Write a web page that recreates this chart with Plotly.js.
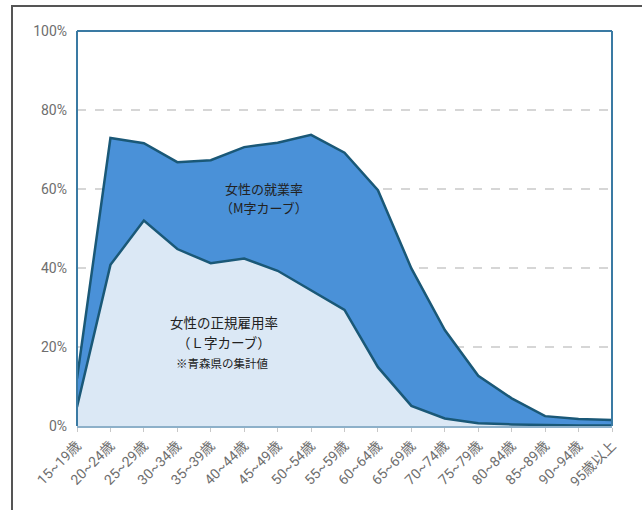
<!DOCTYPE html>
<html>
<head>
<meta charset="utf-8">
<script src="https://cdn.plot.ly/plotly-3.0.1.min.js"></script>
<style>
html,body{margin:0;padding:0;background:#fff;overflow:hidden;}
#frame{position:absolute;left:11px;top:5px;width:700px;height:600px;border:2px solid #555;box-sizing:border-box;}
#chart{position:absolute;left:0;top:0;width:642px;height:510px;}
</style>
</head>
<body>
<div id="frame"></div>
<div id="chart"></div>
<script>
// Age groups
const ageGroups = ["15~19歳","20~24歳","25~29歳","30~34歳","35~39歳","40~44歳","45~49歳","50~54歳","55~59歳","60~64歳","65~69歳","70~74歳","75~79歳","80~84歳","85~89歳","90~94歳","95歳以上"];
// Female employment rate (M-curve), %
const employmentRate = [12.0, 72.9, 71.6, 66.8, 67.3, 70.6, 71.7, 73.7, 69.2, 59.7, 39.9, 24.3, 12.7, 7.0, 2.5, 1.8, 1.5];
// Female regular employment rate (L-curve), %
const regularRate = [4.8, 40.8, 52.0, 44.8, 41.2, 42.4, 39.3, 34.4, 29.4, 14.9, 5.1, 1.9, 0.7, 0.4, 0.2, 0.1, 0.1];
const yTicks = [0, 20, 40, 60, 80, 100];

const lineColor = '#1a5877';
const traces = [
  {
    x: ageGroups, y: regularRate, type: 'scatter', mode: 'lines',
    fill: 'tozeroy', fillcolor: '#dbe8f5',
    line: {color: lineColor, width: 2.5}, hoverinfo: 'skip'
  },
  {
    x: ageGroups, y: employmentRate, type: 'scatter', mode: 'lines',
    fill: 'tonexty', fillcolor: '#4a91d8',
    line: {color: lineColor, width: 2.5}, hoverinfo: 'skip'
  }
];

const tickFont = {family: '"Liberation Sans Narrow", "Roboto", "Noto Sans CJK JP", sans-serif', size: 14, color: '#6e6e6e'};
const cjk = '"Noto Sans CJK JP", sans-serif';

const layout = {
  width: 642, height: 510,
  margin: {l: 77, r: 30, t: 31, b: 84},
  paper_bgcolor: 'rgba(0,0,0,0)',
  plot_bgcolor: '#ffffff',
  showlegend: false,
  xaxis: {
    type: 'category', range: [0, ageGroups.length - 1],
    tickangle: -45, tickfont: tickFont,
    ticks: 'outside', ticklen: 4, tickcolor: '#c8c8c8',
    showgrid: false, zeroline: false,
    showline: true, linecolor: '#8db0c9', linewidth: 2,
    fixedrange: true
  },
  yaxis: {
    range: [0, 100], tickvals: yTicks, ticktext: yTicks.map(v => v + '%'),
    tickfont: tickFont, ticks: '', ticklabelstandoff: 9,
    showgrid: true, gridcolor: '#d6d6d6', griddash: 'dash', gridwidth: 1.5,
    zeroline: false, showline: false, fixedrange: true
  },
  shapes: [
    {type: 'line', xref: 'paper', yref: 'paper', x0: 0, x1: 0, y0: 0, y1: 1, line: {color: '#3a7aa3', width: 2}, layer: 'above'},
    {type: 'line', xref: 'paper', yref: 'paper', x0: 0, x1: 1, y0: 1, y1: 1, line: {color: '#3a7aa3', width: 2}, layer: 'above'},
    {type: 'line', xref: 'paper', yref: 'paper', x0: 1, x1: 1, y0: 0, y1: 1, line: {color: '#3a7aa3', width: 2}, layer: 'above'}
  ],
  annotations: [
    {x: 5.6, y: 60.2, xref: 'x', yref: 'y', text: '女性の就業率', showarrow: false, borderpad: 0, font: {family: cjk, size: 13, color: '#222'}},
    {x: 5.6, y: 55.2, xref: 'x', yref: 'y', text: '（M字カーブ）', showarrow: false, borderpad: 0, font: {family: cjk, size: 13, color: '#222'}},
    {x: 4.4, y: 26.3, xref: 'x', yref: 'y', text: '女性の正規雇用率', showarrow: false, borderpad: 0, font: {family: cjk, size: 13.5, color: '#222'}},
    {x: 4.4, y: 21.2, xref: 'x', yref: 'y', text: '（Ｌ字カーブ）', showarrow: false, borderpad: 0, font: {family: cjk, size: 13.5, color: '#222'}},
    {x: 4.33, y: 16.0, xref: 'x', yref: 'y', text: '※青森県の集計値', showarrow: false, borderpad: 0, font: {family: cjk, size: 11.5, color: '#222'}}
  ]
};

Plotly.newPlot('chart', traces, layout, {staticPlot: true, displayModeBar: false});
</script>
</body>
</html>
